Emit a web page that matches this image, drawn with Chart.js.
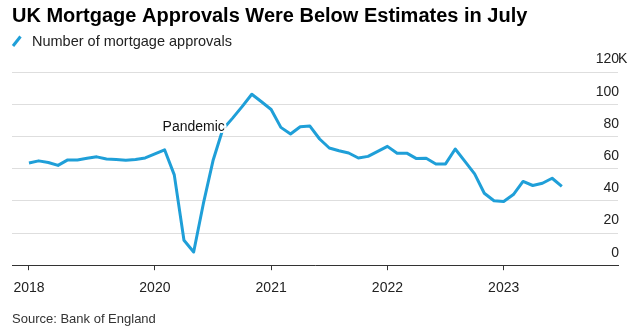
<!DOCTYPE html>
<html>
<head>
<meta charset="utf-8">
<script src="https://cdn.jsdelivr.net/npm/chart.js@4"></script>
<style>
  html, body { margin: 0; padding: 0; background: #fff; }
  #wrap { width: 637px; height: 331px; }
</style>
</head>
<body>
<div id="wrap"><canvas id="approvalsChart" width="637" height="331"></canvas></div>
<script>
// Monthly mortgage approvals, thousands
const months = [
  '2018-12',
  '2019-01', '2019-02', '2019-03', '2019-04', '2019-05', '2019-06',
  '2019-07', '2019-08', '2019-09', '2019-10', '2019-11', '2019-12',
  '2020-01', '2020-02', '2020-03', '2020-04', '2020-05', '2020-06',
  '2020-07', '2020-08', '2020-09', '2020-10', '2020-11', '2020-12',
  '2021-01', '2021-02', '2021-03', '2021-04', '2021-05', '2021-06',
  '2021-07', '2021-08', '2021-09', '2021-10', '2021-11', '2021-12',
  '2022-01', '2022-02', '2022-03', '2022-04', '2022-05', '2022-06',
  '2022-07', '2022-08', '2022-09', '2022-10', '2022-11', '2022-12',
  '2023-01', '2023-02', '2023-03', '2023-04', '2023-05', '2023-06',
  '2023-07'
];
const approvals = [
  63.5,
  64.8, 63.8, 62.0, 65.4, 65.4, 66.4,
  67.3, 66.0, 65.6, 65.2, 65.6, 66.6,
  69.1, 71.7, 56.1, 15.5, 8.2, 38.2,
  65.0, 84.3, 91.2, 98.5, 106.2, 101.5,
  96.7, 85.6, 81.5, 86.0, 86.4, 78.4,
  72.8, 71.1, 69.7, 66.6, 67.6, 70.7,
  73.8, 69.5, 69.6, 66.2, 66.4, 62.9,
  62.9, 72.2, 64.5, 56.7, 44.7, 40.0,
  39.6, 43.9, 52.0, 49.5, 50.9, 54.0,
  48.9
];
const tickMonths = ['2018-12', '2020-01', '2021-01', '2022-01', '2023-01'];
const tickLabels = ['2018', '2020', '2021', '2022', '2023'];
const yTicks = [0, 20, 40, 60, 80, 100, 120];

const chartTitle = 'UK Mortgage Approvals Were Below Estimates in July';
const seriesName = 'Number of mortgage approvals';
const sourceText = 'Source: Bank of England';
const note = { text: 'Pandemic', month: '2020-02', value: 86 };

const lineBlue = '#1f9fd8';
const fontFamily = '"Liberation Sans", Arial, Helvetica, sans-serif';

const points = approvals.map((v, i) => ({ x: i, y: v }));
const tickIndex = tickMonths.map(m => months.indexOf(m));

// title, legend, source line and the hanging "K" on the top y label
const textPlugin = {
  id: 'chartText',
  afterDatasetsDraw(chart) {
    const ctx = chart.ctx;
    const xs = chart.scales.x, ys = chart.scales.y;
    const px = xs.getPixelForValue(months.indexOf(note.month)) - 2;
    const py = ys.getPixelForValue(note.value);
    ctx.save();
    ctx.font = '14px ' + fontFamily;
    ctx.textAlign = 'left';
    ctx.textBaseline = 'middle';
    ctx.lineWidth = 4;
    ctx.strokeStyle = '#fff';
    ctx.strokeText(note.text, px, py);
    ctx.fillStyle = '#111';
    ctx.fillText(note.text, px, py);
    ctx.restore();
  },
  afterDraw(chart) {
    const ctx = chart.ctx;
    ctx.save();
    ctx.fillStyle = '#000';
    ctx.textBaseline = 'alphabetic';
    ctx.textAlign = 'left';
    ctx.font = 'bold 20px ' + fontFamily;
    ctx.fillText(chartTitle, 12, 22);

    // legend swatch: short slanted stroke
    ctx.strokeStyle = lineBlue;
    ctx.lineWidth = 3;
    ctx.lineCap = 'butt';
    ctx.beginPath();
    ctx.moveTo(13, 46);
    ctx.lineTo(20.5, 36.5);
    ctx.stroke();

    ctx.fillStyle = '#222';
    ctx.font = '14.5px ' + fontFamily;
    ctx.fillText(seriesName, 32, 46);

    ctx.fillStyle = '#333';
    ctx.font = '13px ' + fontFamily;
    ctx.fillText(sourceText, 12, 323);

    // unit suffix right after the top tick label
    const ys = chart.scales.y;
    const items = ys.getLabelItems();
    const top = items[items.length - 1];
    const [lx, ly] = top.options.translation;
    ctx.fillStyle = '#222';
    ctx.font = '14px ' + fontFamily;
    ctx.textBaseline = 'middle';
    ctx.fillText('K', lx - 1, ys.getPixelForValue(yTicks[yTicks.length - 1]) - 12.5);
    ctx.restore();
  }
};

const ctx = document.getElementById('approvalsChart').getContext('2d');
const approvalsChart = new Chart(ctx, {
  type: 'line',
  data: {
    datasets: [{
      label: seriesName,
      data: points,
      borderColor: lineBlue,
      borderWidth: 3,
      pointRadius: 0,
      tension: 0,
      borderJoinStyle: 'round',
      borderCapStyle: 'butt'
    }]
  },
  options: {
    responsive: false,
    animation: false,
    layout: { padding: { left: 12, right: 17, top: 72, bottom: 24 } },
    plugins: {
      legend: { display: false },
      title: { display: false },
      tooltip: { enabled: false }
    },
    scales: {
      x: {
        type: 'linear',
        min: -1.75,
        max: 60.8,
        afterBuildTicks: axis => { axis.ticks = tickIndex.map(v => ({ value: v })); },
        ticks: {
          autoSkip: false,
          maxRotation: 0,
          padding: 10,
          color: '#222',
          font: { family: fontFamily, size: 14 },
          callback: v => tickLabels[tickIndex.indexOf(v)]
        },
        grid: { drawOnChartArea: false, drawTicks: true, tickLength: 5, color: '#333', lineWidth: 1 },
        border: { display: true, color: '#333', width: 1 }
      },
      y: {
        position: 'right',
        min: 0,
        max: 120,
        afterBuildTicks: axis => { axis.ticks = yTicks.map(v => ({ value: v })); },
        ticks: {
          mirror: true,
          padding: 1,
          labelOffset: -12.5,
          color: '#222',
          font: { family: fontFamily, size: 14 },
          callback: v => String(v)
        },
        grid: { color: '#dedede', lineWidth: 1, drawTicks: false },
        border: { display: false }
      }
    }
  },
  plugins: [textPlugin]
});
</script>
</body>
</html>
